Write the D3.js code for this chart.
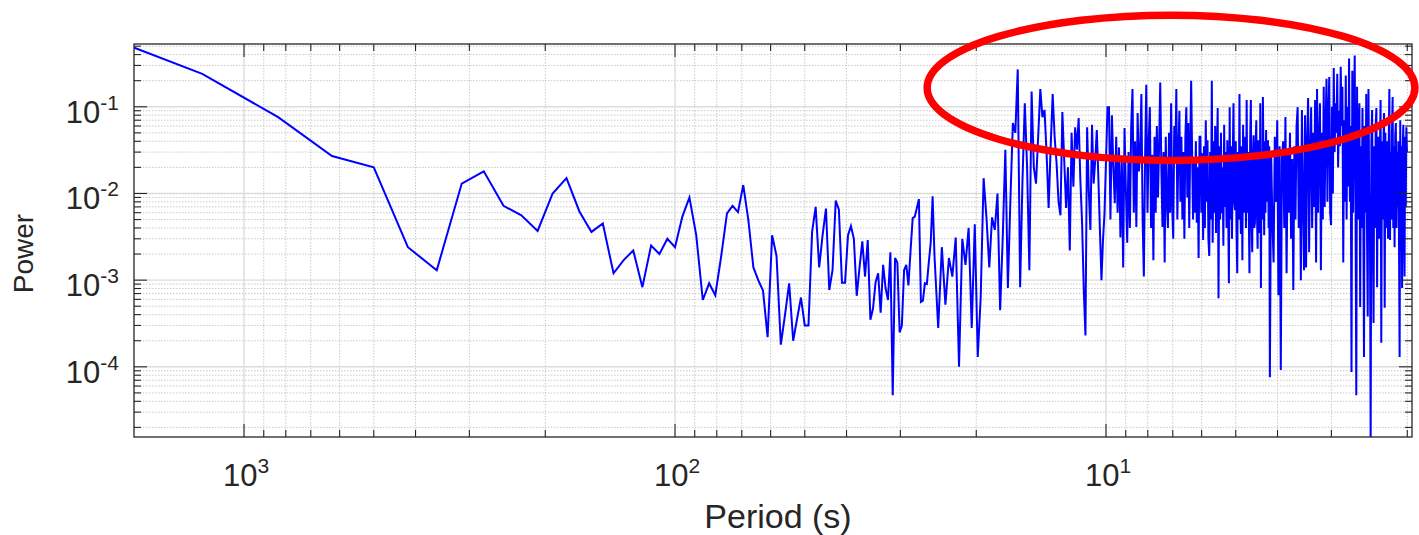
<!DOCTYPE html>
<html>
<head>
<meta charset="utf-8">
<script src="https://cdn.jsdelivr.net/npm/d3@7"></script>
<style>
  html, body { margin: 0; padding: 0; background: #fff; }
  svg { display: block; font-family: "Liberation Sans", Arial, Helvetica, sans-serif; }
</style>
</head>
<body>
<svg width="1419" height="535"></svg>
<script>
// periodogram of a 2500 s record at 1 Hz: harmonic k sits at period 2500/k
const recordLength = 2500;

// k = 1..100
const powerLow = [
  0.9, 0.24, 0.076, 0.027, 0.020, 0.0024, 0.0013, 0.013, 0.018, 0.0072,
  0.0056, 0.0037, 0.010, 0.015, 0.0062, 0.0036, 0.0045, 0.0012, 0.0017, 0.0022,
  0.00083, 0.0025, 0.0020, 0.0030, 0.0024, 0.0054, 0.0090, 0.0033, 0.00059, 0.00092,
  0.00067, 0.0019, 0.0059, 0.0072, 0.0061, 0.0125, 0.0049, 0.0014, 0.0010, 0.00076,
  0.00022, 0.0033, 0.0019, 0.00018, 0.00040, 0.00092, 0.00020, 0.00036, 0.00063, 0.00030,
  0.00030, 0.0036, 0.0070, 0.0014, 0.0033, 0.0067, 0.00077, 0.0013, 0.0083, 0.0065,
  0.00093, 0.00093, 0.0033, 0.0042, 0.0030, 0.00066, 0.0014, 0.0028, 0.0011, 0.0029,
  0.00035, 0.00047, 0.00095, 0.0012, 0.00042, 0.0015, 0.00081, 0.00059, 0.0021, 0.000047,
  0.0018, 0.0016, 0.00025, 0.00030, 0.0013, 0.0015, 0.00087, 0.0022, 0.0052, 0.0054,
  0.0068, 0.0086, 0.00056, 0.00058, 0.00092, 0.00090, 0.0016, 0.0027, 0.0093, 0.0019
];

// k = 102..252, every 2nd harmonic
const powerMid = [
  0.00028, 0.0024, 0.00052, 0.0018, 0.0011, 0.0031, 0.00010, 0.0030, 0.0015, 0.0040,
  0.00028, 0.0044, 0.00013, 0.00064, 0.015, 0.0053, 0.0014, 0.0053, 0.0038, 0.010,
  0.00045, 0.0031, 0.032, 0.00081, 0.0084, 0.065, 0.050, 0.27, 0.00083, 0.014,
  0.11, 0.020, 0.0013, 0.15, 0.020, 0.013, 0.045, 0.16, 0.076, 0.092,
  0.029, 0.0068, 0.034, 0.14, 0.045, 0.022, 0.0080, 0.0056, 0.087, 0.024,
  0.0068, 0.020, 0.0022, 0.050, 0.012, 0.058, 0.032, 0.074, 0.014, 0.0046,
  0.00077, 0.00023, 0.058, 0.011, 0.0038, 0.062, 0.013, 0.024, 0.054, 0.015,
  0.0038, 0.0010, 0.0029, 0.0059, 0.024, 0.099
];

// k = 254..600, every 2nd harmonic
const powerHigh = [
  0.099, 0.005, 0.08, 0.02, 0.0077, 0.045, 0.006, 0.034, 0.0031, 0.025,
  0.0014, 0.057, 0.011, 0.0027, 0.03, 0.004, 0.058, 0.16, 0.006, 0.04,
  0.0041, 0.085, 0.018, 0.03, 0.14, 0.005, 0.0011, 0.025, 0.18, 0.006,
  0.04, 0.099, 0.004, 0.028, 0.0017, 0.045, 0.006, 0.06, 0.009, 0.035,
  0.19, 0.02, 0.0041, 0.03, 0.0016, 0.045, 0.008, 0.004, 0.05, 0.006,
  0.11, 0.007, 0.003, 0.06, 0.025, 0.16, 0.005, 0.03, 0.09, 0.008,
  0.045, 0.005, 0.03, 0.003, 0.045, 0.099, 0.009, 0.065, 0.004, 0.035,
  0.2, 0.03, 0.005, 0.026, 0.006, 0.04, 0.0046, 0.02, 0.0018, 0.045,
  0.045, 0.006, 0.029, 0.0029, 0.035, 0.004, 0.07, 0.008, 0.041, 0.003,
  0.0019, 0.03, 0.005, 0.2, 0.0027, 0.04, 0.006, 0.06, 0.0035, 0.025,
  0.097, 0.00062, 0.035, 0.005, 0.05, 0.0059, 0.02, 0.0025, 0.062, 0.007,
  0.03, 0.004, 0.041, 0.008, 0.00092, 0.099, 0.005, 0.035, 0.003, 0.025,
  0.11, 0.008, 0.0064, 0.04, 0.004, 0.0012, 0.03, 0.005, 0.14, 0.009,
  0.0034, 0.035, 0.0017, 0.062, 0.006, 0.0096, 0.045, 0.004, 0.12, 0.006,
  0.03, 0.0064, 0.0012, 0.04, 0.12, 0.005, 0.0021, 0.025, 0.047, 0.004,
  0.0046, 0.035, 0.07, 0.006, 0.0023, 0.041, 0.009, 0.0035, 0.11, 0.00081,
  0.03, 0.005, 0.13, 0.025, 0.0033, 0.04, 0.006, 0.054, 0.008, 0.03,
  0.041, 0.004, 0.035, 0.000076
];

// k = 604..1248, every 4th harmonic
const powerTail = [
  0.03, 0.005, 0.0016, 0.045, 0.008, 0.07, 0.00067, 0.035, 0.000092, 0.025,
  0.04, 0.004, 0.076, 0.0012, 0.03, 0.006, 0.05, 0.003, 0.025, 0.00077,
  0.035, 0.005, 0.06, 0.099, 0.004, 0.03, 0.001, 0.092, 0.008, 0.0013,
  0.08, 0.0014, 0.04, 0.126, 0.0021, 0.03, 0.099, 0.004, 0.05, 0.007,
  0.12, 0.0016, 0.16, 0.006, 0.04, 0.11, 0.0013, 0.05, 0.005, 0.17,
  0.007, 0.06, 0.21, 0.008, 0.08, 0.22, 0.006, 0.0043, 0.1, 0.01,
  0.28, 0.03, 0.11, 0.05, 0.24, 0.02, 0.09, 0.035, 0.29, 0.06,
  0.17, 0.0016, 0.07, 0.008, 0.23, 0.005, 0.1, 0.012, 0.36, 0.008,
  0.06, 0.000087, 0.26, 0.006, 0.08, 0.39, 0.01, 0.000047, 0.17, 0.005,
  0.05, 0.11, 0.00049, 0.035, 0.004, 0.097, 0.008, 0.00013, 0.06, 0.006,
  0.14, 0.004, 0.00038, 0.16, 0.01, 0.005, 0.000012, 0.04, 0.092, 0.004,
  0.00032, 0.035, 0.004, 0.06, 0.097, 0.00083, 0.025, 0.045, 0.003, 0.03,
  0.12, 0.00019, 0.04, 0.005, 0.03, 0.085, 0.00048, 0.05, 0.004, 0.025,
  0.04, 0.003, 0.035, 0.16, 0.0029, 0.03, 0.005, 0.05, 0.13, 0.004,
  0.035, 0.0024, 0.045, 0.065, 0.004, 0.03, 0.007, 0.04, 0.003, 0.00013,
  0.07, 0.005, 0.035, 0.00081, 0.03, 0.062, 0.004, 0.0011, 0.045, 0.007,
  0.058, 0.03
];

const periodRange = [1800, 1.95];
const powerRange = [1.55e-5, 0.53];
const xTickExponents = [3, 2, 1];
const yTickExponents = [-1, -2, -3, -4];

// red highlight ellipse, given by its extent in data units
const highlightPeriods = [26, 1.92];
const highlightPowers = [1.14, 0.024];

function harmonics(values, start, step) {
  return values.map((p, i) => ({ period: recordLength / (start + i * step), power: p }));
}

const spectrum = [
  ...harmonics(powerLow, 1, 1),
  ...harmonics(powerMid, 102, 2),
  ...harmonics(powerHigh, 254, 2),
  ...harmonics(powerTail, 604, 4)
];

const W = 1419, H = 535;
const margin = { top: 44, right: 7, bottom: 98, left: 134 };
const plotLeft = margin.left, plotRight = W - margin.right;
const plotTop = margin.top, plotBottom = H - margin.bottom;
const ink = "#262626";

const svg = d3.select("svg");

const x = d3.scaleLog().domain(periodRange).range([plotLeft, plotRight]);
const y = d3.scaleLog().domain(powerRange).range([plotBottom, plotTop]);

const isDecade = v => Math.abs(Math.log10(v) - Math.round(Math.log10(v))) < 1e-6;
const xTicks = x.ticks();
const yTicks = y.ticks();

// grid: dotted minor lines, light solid major lines
const grid = svg.append("g");
grid.selectAll(".xminor")
  .data(xTicks.filter(v => !isDecade(v)))
  .join("line")
  .attr("x1", d => x(d)).attr("x2", d => x(d))
  .attr("y1", plotTop).attr("y2", plotBottom)
  .attr("stroke", "#c4c4c4").attr("stroke-width", 0.9)
  .attr("stroke-dasharray", "1.5,1.5");
grid.selectAll(".yminor")
  .data(yTicks.filter(v => !isDecade(v)))
  .join("line")
  .attr("y1", d => y(d)).attr("y2", d => y(d))
  .attr("x1", plotLeft).attr("x2", plotRight)
  .attr("stroke", "#c4c4c4").attr("stroke-width", 0.9)
  .attr("stroke-dasharray", "1.5,1.5");
grid.selectAll(".xmajor")
  .data(xTicks.filter(isDecade))
  .join("line")
  .attr("x1", d => x(d)).attr("x2", d => x(d))
  .attr("y1", plotTop).attr("y2", plotBottom)
  .attr("stroke", "#dcdcdc").attr("stroke-width", 1.4);
grid.selectAll(".ymajor")
  .data(yTicks.filter(isDecade))
  .join("line")
  .attr("y1", d => y(d)).attr("y2", d => y(d))
  .attr("x1", plotLeft).attr("x2", plotRight)
  .attr("stroke", "#dcdcdc").attr("stroke-width", 1.4);

// spectrum line
svg.append("clipPath").attr("id", "plot-clip")
  .append("rect")
  .attr("x", plotLeft).attr("y", plotTop)
  .attr("width", plotRight - plotLeft).attr("height", plotBottom - plotTop);

const line = d3.line()
  .x(d => x(d.period))
  .y(d => y(d.power));

svg.append("path")
  .datum(spectrum)
  .attr("clip-path", "url(#plot-clip)")
  .attr("fill", "none")
  .attr("stroke", "#0000ff")
  .attr("stroke-width", 2)
  .attr("stroke-linejoin", "miter")
  .attr("d", line);

// box and inward ticks on all four sides
svg.append("rect")
  .attr("x", plotLeft).attr("y", plotTop)
  .attr("width", plotRight - plotLeft).attr("height", plotBottom - plotTop)
  .attr("fill", "none").attr("stroke", ink).attr("stroke-width", 1.3);

const tickLen = v => isDecade(v) ? 13 : 7;
const ticks = svg.append("g").attr("stroke", ink).attr("stroke-width", 1.1);
xTicks.forEach(v => {
  ticks.append("line").attr("x1", x(v)).attr("x2", x(v)).attr("y1", plotBottom).attr("y2", plotBottom - tickLen(v));
  ticks.append("line").attr("x1", x(v)).attr("x2", x(v)).attr("y1", plotTop).attr("y2", plotTop + tickLen(v));
});
yTicks.forEach(v => {
  ticks.append("line").attr("y1", y(v)).attr("y2", y(v)).attr("x1", plotLeft).attr("x2", plotLeft + tickLen(v));
  ticks.append("line").attr("y1", y(v)).attr("y2", y(v)).attr("x1", plotRight).attr("x2", plotRight - tickLen(v));
});

// tick labels as 10 with a superscript exponent
svg.append("g")
  .selectAll("text")
  .data(xTickExponents)
  .join("text")
  .attr("x", e => x(10 ** e) + 2)
  .attr("y", plotBottom + 49)
  .attr("text-anchor", "middle")
  .attr("fill", ink)
  .attr("font-size", 31)
  .each(function(e) {
    const t = d3.select(this);
    t.append("tspan").text("10");
    t.append("tspan").attr("dy", -13).attr("font-size", 21).text(e);
  });

svg.append("g")
  .selectAll("text")
  .data(yTickExponents)
  .join("text")
  .attr("x", plotLeft - 15)
  .attr("y", e => y(10 ** e) + 16)
  .attr("text-anchor", "end")
  .attr("fill", ink)
  .attr("font-size", 31)
  .each(function(e) {
    const t = d3.select(this);
    t.append("tspan").text("10");
    t.append("tspan").attr("dy", -13).attr("font-size", 21).text(e);
  });

// axis titles
svg.append("text")
  .attr("x", (plotLeft + plotRight) / 2 + 5)
  .attr("y", H - 7)
  .attr("text-anchor", "middle")
  .attr("fill", ink)
  .attr("font-size", 34)
  .text("Period (s)");

svg.append("text")
  .attr("transform", `translate(33, ${(plotTop + plotBottom) / 2 + 13}) rotate(-90)`)
  .attr("text-anchor", "middle")
  .attr("fill", ink)
  .attr("font-size", 28)
  .text("Power");

// highlight ellipse around the short-period band
const ex = highlightPeriods.map(x);
const ey = highlightPowers.map(y);
svg.append("ellipse")
  .attr("cx", (ex[0] + ex[1]) / 2)
  .attr("cy", (ey[0] + ey[1]) / 2)
  .attr("rx", Math.abs(ex[1] - ex[0]) / 2)
  .attr("ry", Math.abs(ey[1] - ey[0]) / 2)
  .attr("fill", "none")
  .attr("stroke", "#ff0000")
  .attr("stroke-width", 7.5);
</script>
</body>
</html>
